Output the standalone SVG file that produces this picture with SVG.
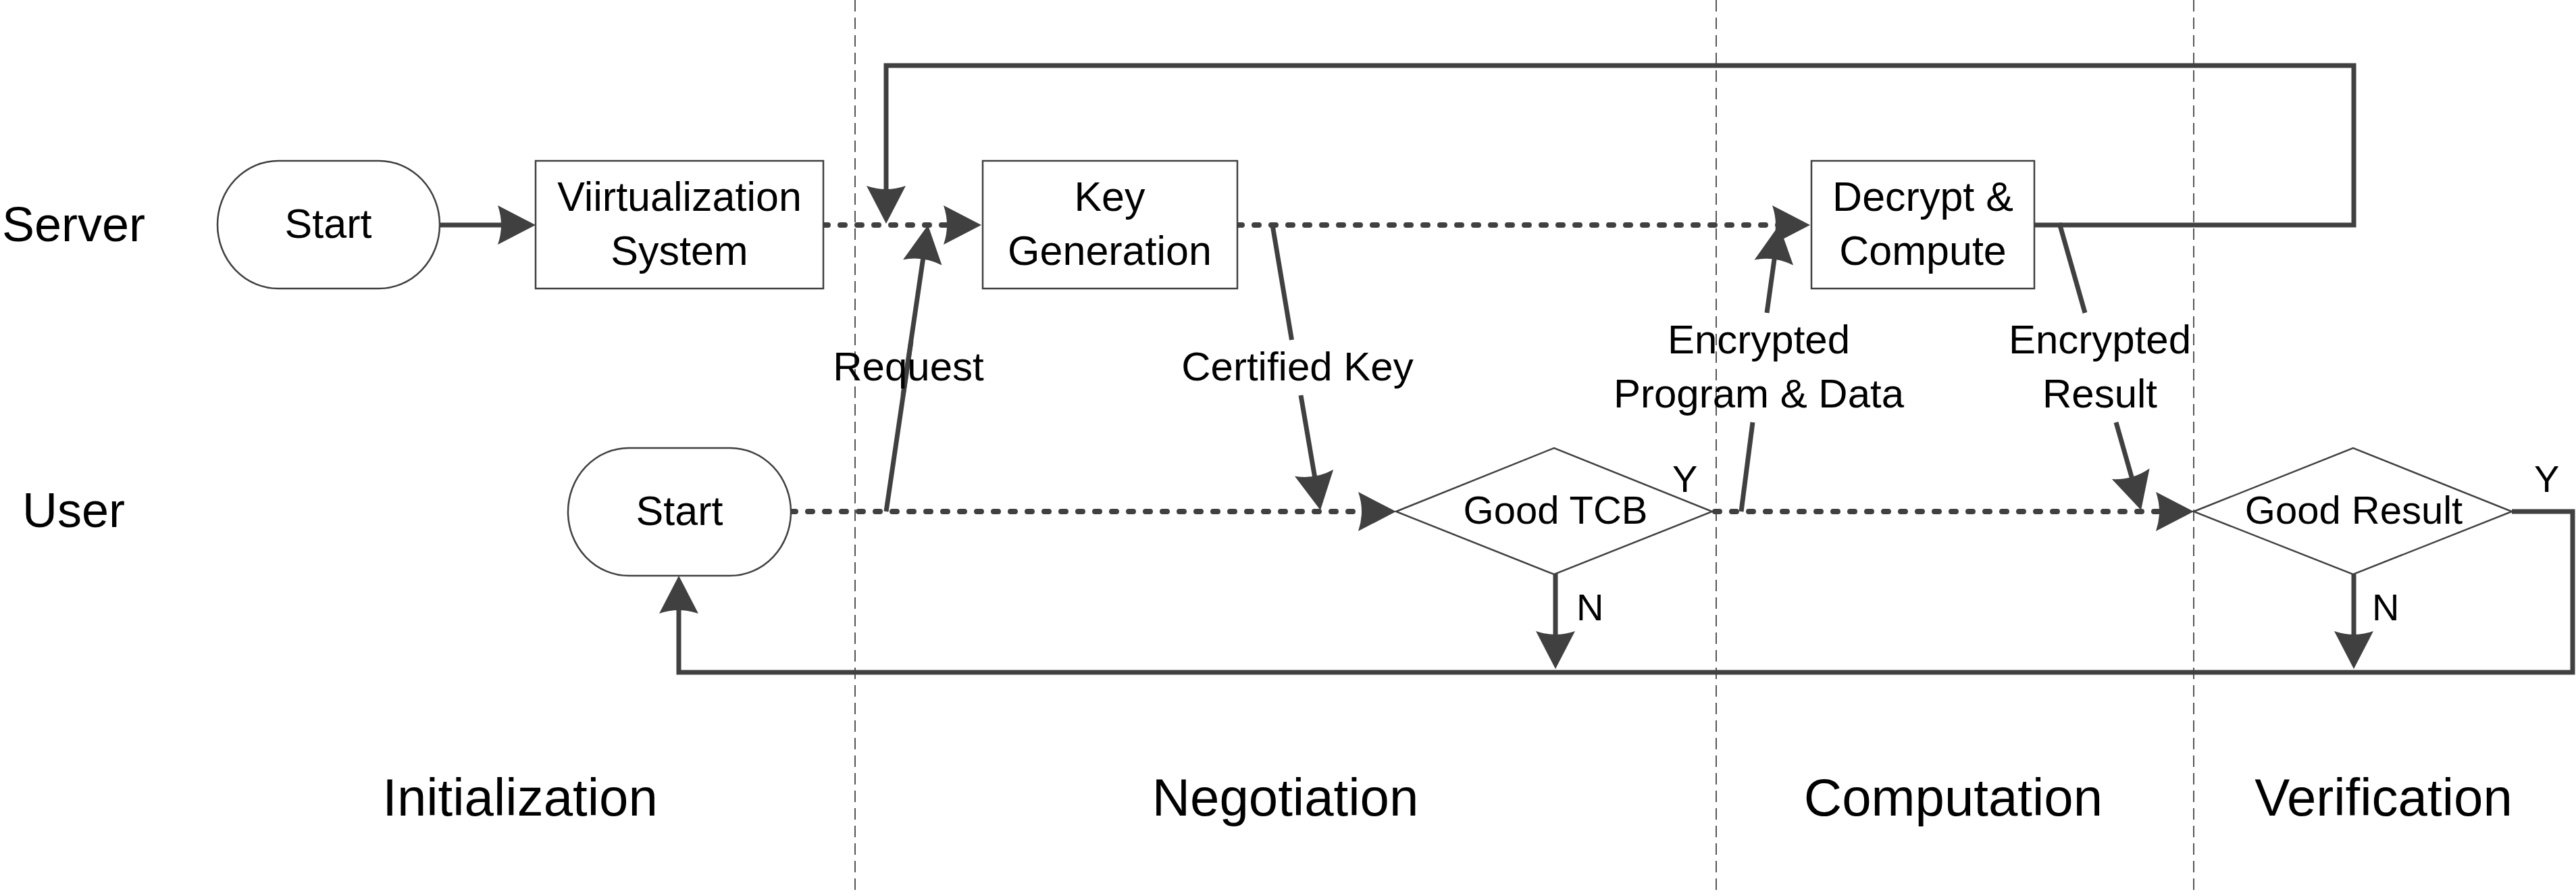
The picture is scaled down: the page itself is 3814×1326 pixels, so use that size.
<svg xmlns="http://www.w3.org/2000/svg" width="3814" height="1326" viewBox="0 0 3814 1326">
<style>
.grid{stroke:#555;stroke-width:2;stroke-dasharray:17 9;fill:none}
.box{fill:#fff;stroke:#404040;stroke-width:2.5}
.t{font-family:"Liberation Sans",Arial,sans-serif;fill:#000}
.nt{font-size:61px;text-anchor:middle}
.dt{font-size:58px;text-anchor:middle}
.lb{font-size:60px;text-anchor:middle}
.lane{font-size:72px}
.ph{font-size:78px;text-anchor:middle}
.yn{font-size:56px}
.solid{fill:none;stroke:#404040;stroke-width:7;stroke-linejoin:miter}
.dot{fill:none;stroke:#404040;stroke-width:8;stroke-dasharray:7 18;stroke-linecap:round}
</style>
<defs>
<marker id="ah" markerUnits="userSpaceOnUse" viewBox="-50 -32 64 64" refX="0" refY="0" markerWidth="64" markerHeight="64" orient="auto">
<path d="M10,0 L-46,-29 Q-36,0 -46,29 Z" fill="#404040"/>
</marker>
</defs>
<rect width="3814" height="1326" fill="#fff"/>
<g id="gridlines">
<line class="grid" x1="1266" y1="0" x2="1266" y2="1326"/>
<line class="grid" x1="2541" y1="0" x2="2541" y2="1326"/>
<line class="grid" x1="3248" y1="0" x2="3248" y2="1326"/>
</g>
<g id="lanes">
<text class="t lane" x="3" y="357">Server</text>
<text class="t lane" x="33" y="780">User</text>
<text class="t ph" x="770" y="1207">Initialization</text>
<text class="t ph" x="1903" y="1207">Negotiation</text>
<text class="t ph" x="2892" y="1207">Computation</text>
<text class="t ph" x="3529" y="1207">Verification</text>
</g>
<g id="connectors">
<path class="solid" d="M651,333 H783" marker-end="url(#ah)"/>
<path class="dot" d="M1219,333 H1443" marker-end="url(#ah)"/>
<path class="dot" d="M1832,333 H2670" marker-end="url(#ah)"/>
<path class="dot" d="M1171,757 H2057" marker-end="url(#ah)"/>
<path class="dot" d="M2539,757 H3238" marker-end="url(#ah)"/>
<path class="solid" d="M3012,333 H3485 V97 H1312 V321" marker-end="url(#ah)"/>
<path class="solid" d="M3719,757 H3809 V995 H1005 V862" marker-end="url(#ah)"/>
<path class="solid" d="M2303,849 V980" marker-end="url(#ah)"/>
<path class="solid" d="M3485,850 V980" marker-end="url(#ah)"/>
<path class="solid" d="M1312,757 L1349,505"/>
<path class="solid" d="M1337,585 L1372.5,342.9" marker-end="url(#ah)"/>
<path class="solid" d="M1884,333 L1912.5,503"/>
<path class="solid" d="M1926,585 L1953.3,745.1" marker-end="url(#ah)"/>
<path class="solid" d="M2578,757 L2595,625"/>
<path class="solid" d="M2616,463 L2632.7,342.9" marker-end="url(#ah)"/>
<path class="solid" d="M3049,330 L3087,463"/>
<path class="solid" d="M3133,625 L3167.3,745.4" marker-end="url(#ah)"/>
<text class="t lb" x="1345" y="563">Request</text>
<text class="t lb" x="1921" y="563">Certified Key</text>
<text class="t lb" x="2604" y="523">Encrypted</text>
<text class="t lb" x="2604" y="603">Program &amp; Data</text>
<text class="t lb" x="3109" y="523">Encrypted</text>
<text class="t lb" x="3109" y="603">Result</text>
<text class="t yn" x="2476" y="728">Y</text>
<text class="t yn" x="2334" y="918">N</text>
<text class="t yn" x="3752" y="728">Y</text>
<text class="t yn" x="3512" y="918">N</text>
</g>
<g id="server-start">
<rect class="box" x="322" y="238" width="329" height="189" rx="90" ry="94.5"/>
<text class="t nt" x="486" y="352">Start</text>
</g>
<g id="virtualization">
<rect class="box" x="793" y="238" width="426" height="189"/>
<text class="t nt" x="1006" y="312">Viirtualization</text>
<text class="t nt" x="1006" y="392">System</text>
</g>
<g id="key-generation">
<rect class="box" x="1455" y="238" width="377" height="189"/>
<text class="t nt" x="1643" y="312">Key</text>
<text class="t nt" x="1643" y="392">Generation</text>
</g>
<g id="decrypt-compute">
<rect class="box" x="2682" y="238" width="330" height="189"/>
<text class="t nt" x="2847" y="312">Decrypt &amp;</text>
<text class="t nt" x="2847" y="392">Compute</text>
</g>
<g id="user-start">
<rect class="box" x="841" y="663" width="330" height="189" rx="90" ry="94.5"/>
<text class="t nt" x="1006" y="777">Start</text>
</g>
<g id="good-tcb">
<polygon class="box" points="2067,757 2301,663 2535,757 2301,850"/>
<text class="t dt" x="2303" y="775">Good TCB</text>
</g>
<g id="good-result">
<polygon class="box" points="3248,757 3484,663 3719,757 3484,850"/>
<text class="t dt" x="3485" y="775">Good Result</text>
</g>
</svg>
